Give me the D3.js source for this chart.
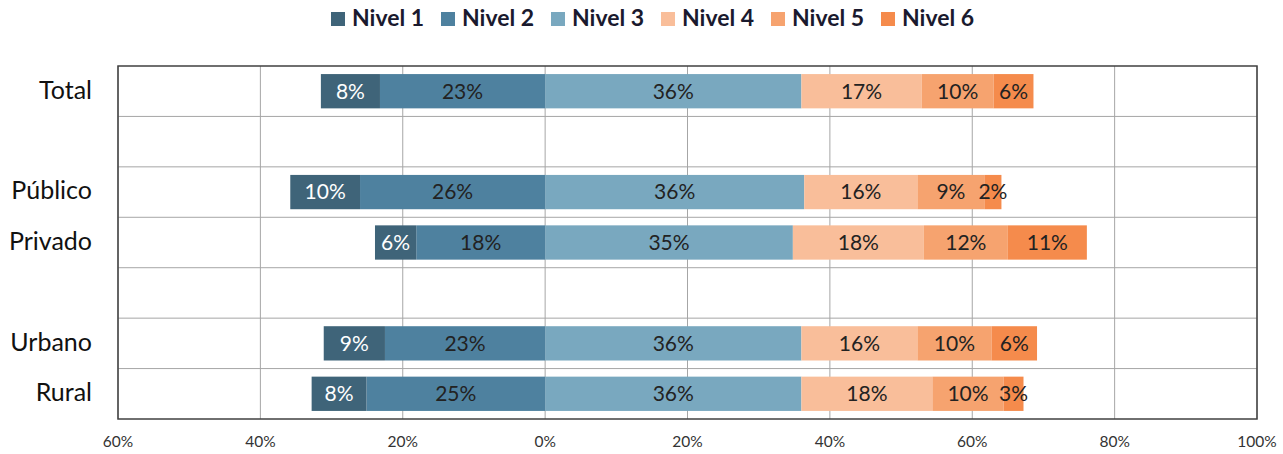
<!DOCTYPE html>
<html>
<head>
<meta charset="utf-8">
<script src="https://cdn.jsdelivr.net/npm/d3@7"></script>
<style>
  body { margin: 0; background: #fff; }
  svg { font-family: Lato, "Open Sans", sans-serif; }
</style>
</head>
<body>
<div id="chart"></div>
<script>
// categories (null = empty spacer row)
const categories = ["Total", null, "Público", "Privado", null, "Urbano", "Rural"];
const levels = ["Nivel 1", "Nivel 2", "Nivel 3", "Nivel 4", "Nivel 5", "Nivel 6"];
// percentages per level
const nivel1 = [8.3, null, 9.8, 5.8, null, 8.6, 7.7];
const nivel2 = [23.2, null, 26.0, 18.1, null, 22.5, 25.1];
const nivel3 = [36.0, null, 36.4, 34.8, null, 36.0, 36.0];
const nivel4 = [16.9, null, 15.9, 18.4, null, 16.3, 18.4];
const nivel5 = [10.1, null, 9.4, 11.8, null, 10.4, 10.0];
const nivel6 = [5.6, null, 2.4, 11.1, null, 6.4, 2.8];
const xTicks = [-60, -40, -20, 0, 20, 40, 60, 80, 100];

const colors = ["#3f6479", "#4e819f", "#79a8bf", "#f9be9a", "#f6a36f", "#f58b4c"];
const textColors = ["#fff", "#222", "#222", "#222", "#222", "#222"];

const width = 1283, height = 454;
const margin = { top: 66, right: 26, bottom: 35, left: 118 };

const svg = d3.select("#chart").append("svg")
    .attr("width", width)
    .attr("height", height);

const x = d3.scaleLinear().domain([-60, 100]).range([margin.left, width - margin.right]);
const y = d3.scaleBand().domain(d3.range(categories.length))
    .range([margin.top, height - margin.bottom]).padding(0);

// build segments: levels 1-2 go left of zero, 3-6 go right
const series = [nivel1, nivel2, nivel3, nivel4, nivel5, nivel6];
const segments = [];
categories.forEach((c, i) => {
    if (c === null) return;
    const n2 = series[1][i], n1 = series[0][i];
    segments.push({ row: i, lvl: 1, x0: -n2, x1: 0, v: n2 });
    segments.push({ row: i, lvl: 0, x0: -(n1 + n2), x1: -n2, v: n1 });
    let acc = 0;
    for (let k = 2; k < 6; k++) {
        const v = series[k][i];
        segments.push({ row: i, lvl: k, x0: acc, x1: acc + v, v: v });
        acc += v;
    }
});

// grid
svg.append("g").selectAll("line")
    .data(xTicks)
    .enter().append("line")
    .attr("x1", d => x(d)).attr("x2", d => x(d))
    .attr("y1", margin.top).attr("y2", height - margin.bottom)
    .attr("stroke", "#a6a6a6").attr("stroke-width", 1);
svg.append("g").selectAll("line")
    .data(d3.range(1, categories.length))
    .enter().append("line")
    .attr("x1", margin.left).attr("x2", width - margin.right)
    .attr("y1", d => y(d)).attr("y2", d => y(d))
    .attr("stroke", "#a6a6a6").attr("stroke-width", 1);

// bars
const barH = y.bandwidth() * 0.68;
const barOff = (y.bandwidth() - barH) / 2;
svg.append("g").selectAll("rect")
    .data(segments)
    .enter().append("rect")
    .attr("x", d => x(d.x0))
    .attr("width", d => x(d.x1) - x(d.x0))
    .attr("y", d => y(d.row) + barOff)
    .attr("height", barH)
    .attr("fill", d => colors[d.lvl]);

svg.append("g").selectAll("text")
    .data(segments)
    .enter().append("text")
    .attr("x", d => (x(d.x0) + x(d.x1)) / 2)
    .attr("y", d => y(d.row) + y.bandwidth() / 2 + 2)
    .attr("text-anchor", "middle")
    .attr("dominant-baseline", "middle")
    .attr("font-size", 21)
    .attr("fill", d => textColors[d.lvl])
    .text(d => Math.round(d.v) + "%");

// border
svg.append("rect")
    .attr("x", margin.left).attr("y", margin.top)
    .attr("width", x(100) - x(-60)).attr("height", height - margin.bottom - margin.top)
    .attr("fill", "none").attr("stroke", "#404040").attr("stroke-width", 1.5);

// category labels
svg.append("g").selectAll("text")
    .data(categories.map((c, i) => ({ c, i })).filter(d => d.c !== null))
    .enter().append("text")
    .attr("x", 92)
    .attr("y", d => y(d.i) + y.bandwidth() / 2 + 1)
    .attr("text-anchor", "end")
    .attr("dominant-baseline", "middle")
    .attr("font-size", 25)
    .attr("fill", "#111")
    .text(d => d.c);

// x axis labels
svg.append("g").selectAll("text")
    .data(xTicks)
    .enter().append("text")
    .attr("x", d => x(d))
    .attr("y", 447)
    .attr("text-anchor", "middle")
    .attr("font-size", 15.5)
    .attr("fill", "#333")
    .text(d => Math.abs(d) + "%");

// legend
const legend = svg.append("g").selectAll("g")
    .data(levels)
    .enter().append("g")
    .attr("transform", (d, i) => "translate(" + (331 + i * 110) + ",12)");
legend.append("rect")
    .attr("width", 14).attr("height", 14)
    .attr("fill", (d, i) => colors[i]);
legend.append("text")
    .attr("x", 21).attr("y", 8)
    .attr("dominant-baseline", "middle")
    .attr("font-size", 23)
    .attr("font-weight", "bold")
    .attr("fill", "#1a1a2e")
    .text(d => d);
</script>
</body>
</html>
